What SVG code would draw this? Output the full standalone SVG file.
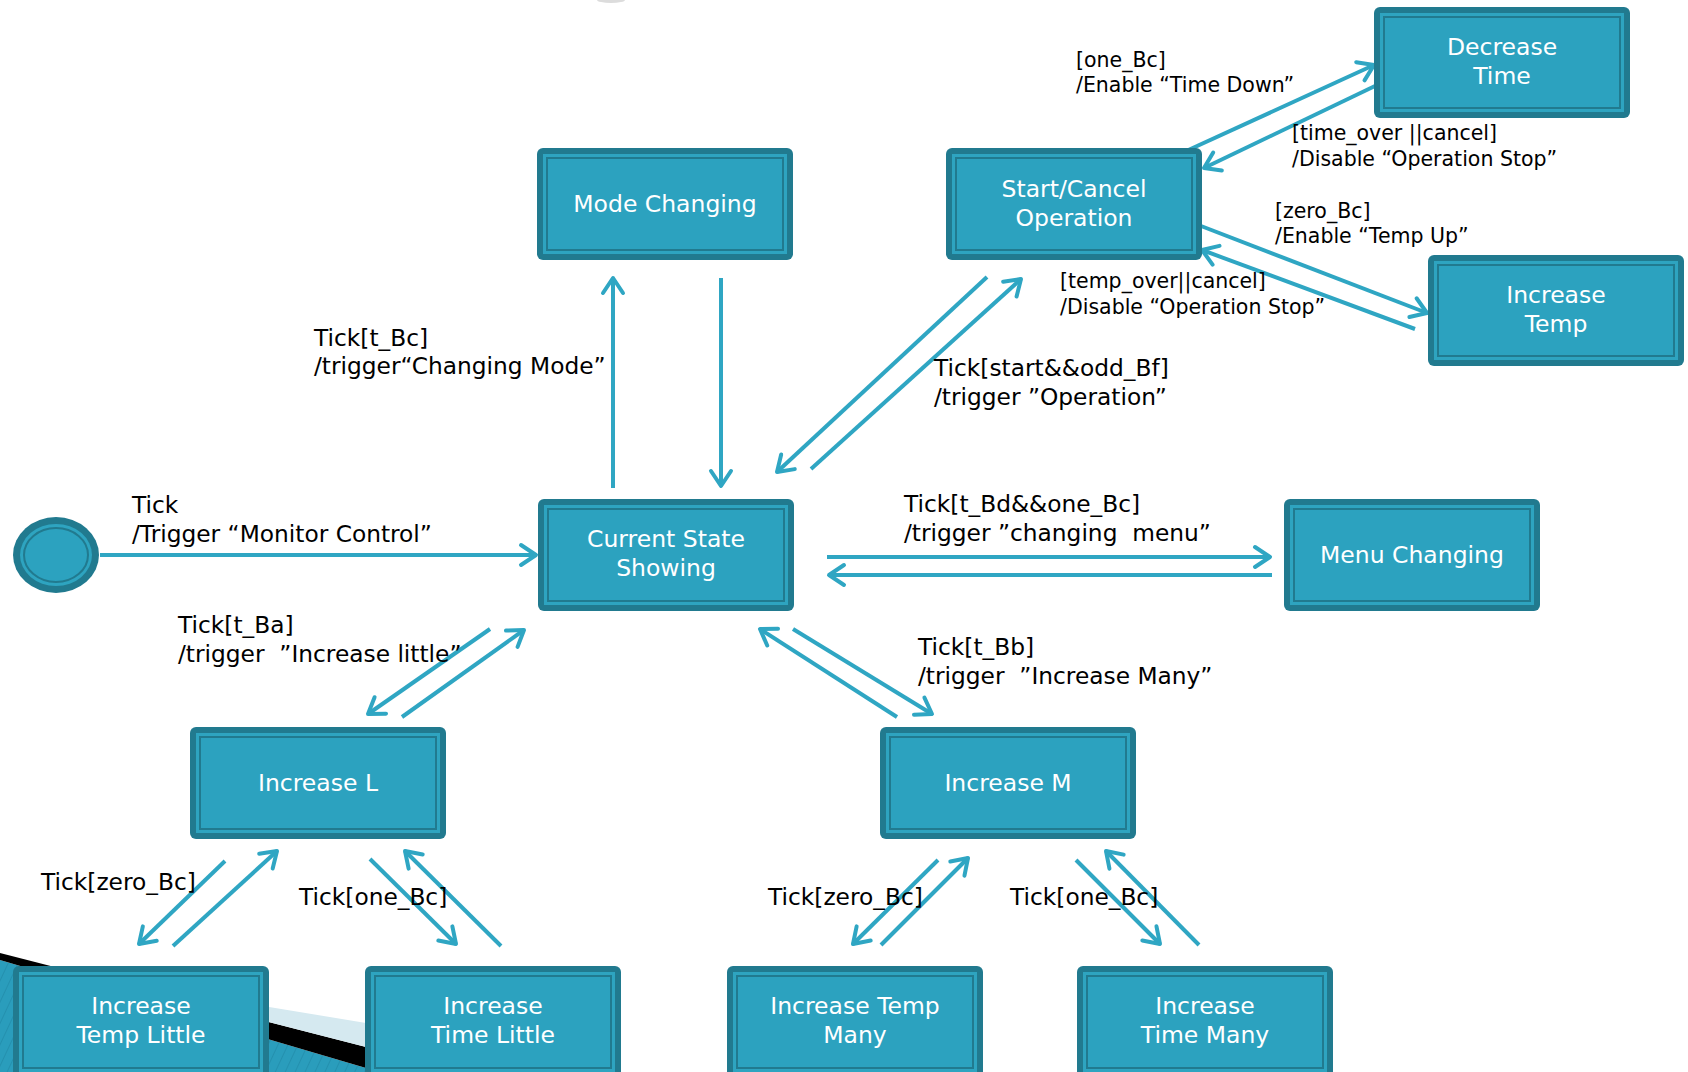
<svg xmlns="http://www.w3.org/2000/svg" width="1688" height="1072" viewBox="0 0 1688 1072">
  <defs>
    <style>
      .outer { fill: #217a8f; }
      .band { fill: #2ea4c0; }
      .inner { fill: #2ca2bf; stroke: #217a8f; stroke-width: 2; }
      .nlabel { font-family: "DejaVu Sans", "Noto Sans", sans-serif; font-size: 23.5px; fill: #ffffff; text-anchor: middle; }
      .elabel { font-family: "DejaVu Sans", "Noto Sans", sans-serif; font-size: 23.3px; fill: #000000; }
      .slabel { font-family: "DejaVu Sans", "Noto Sans", sans-serif; font-size: 20.5px; fill: #000000; }
      .edge { fill: none; stroke: #2fa6c3; stroke-width: 4; marker-end: url(#ah); }
    </style>
    <marker id="ah" markerUnits="userSpaceOnUse" markerWidth="40" markerHeight="40" viewBox="-20 -20 40 40" refX="0" refY="0" orient="auto" overflow="visible">
      <path d="M-15,-10 L0,0 L-15,10" fill="none" stroke="#2fa6c3" stroke-width="4" stroke-linecap="round" stroke-linejoin="round"/>
    </marker>
    <pattern id="stripes" patternUnits="userSpaceOnUse" width="9" height="9" patternTransform="rotate(25)">
      <rect width="9" height="9" fill="#2a9dbc"/>
      <line x1="0" y1="0" x2="0" y2="9" stroke="#2490ae" stroke-width="2"/>
    </pattern>
  </defs>

  <!-- slide background ribbon, lower-left corner -->
  <g id="background">
    <ellipse cx="611" cy="0" rx="14" ry="3" fill="#dcdcdc"/>
    <polygon points="0,960 366,1068 366,1072 0,1072" fill="url(#stripes)"/>
    <polygon points="0,953 366,1047 366,1068 0,960" fill="#000000"/>
    <polygon points="100,979 366,1023 366,1047" fill="#d5e9f0"/>
  </g>

  <!-- transitions -->
  <g id="connectors">
    <line class="edge" x1="100" y1="555" x2="536" y2="555"/>
    <line class="edge" x1="613" y1="488" x2="613" y2="278"/>
    <line class="edge" x1="721" y1="278" x2="721" y2="486"/>
    <line class="edge" x1="811" y1="469" x2="1021" y2="279"/>
    <line class="edge" x1="987" y1="277" x2="777" y2="472"/>
    <line class="edge" x1="827" y1="557" x2="1270" y2="557"/>
    <line class="edge" x1="1272" y1="575" x2="829" y2="575"/>
    <line class="edge" x1="490" y1="629" x2="368" y2="714"/>
    <line class="edge" x1="402" y1="717" x2="524" y2="630"/>
    <line class="edge" x1="793" y1="629" x2="932" y2="714"/>
    <line class="edge" x1="897" y1="717" x2="760" y2="629"/>
    <line class="edge" x1="225" y1="861" x2="139" y2="944"/>
    <line class="edge" x1="173" y1="946" x2="277" y2="851"/>
    <line class="edge" x1="370" y1="859" x2="456" y2="944"/>
    <line class="edge" x1="501" y1="946" x2="405" y2="851"/>
    <line class="edge" x1="938" y1="860" x2="853" y2="944"/>
    <line class="edge" x1="881" y1="945" x2="968" y2="858"/>
    <line class="edge" x1="1076" y1="860" x2="1160" y2="944"/>
    <line class="edge" x1="1199" y1="945" x2="1106" y2="851"/>
    <line class="edge" x1="1184" y1="152" x2="1374" y2="65"/>
    <line class="edge" x1="1375" y1="86" x2="1204" y2="168"/>
    <line class="edge" x1="1201" y1="226" x2="1427" y2="313"/>
    <line class="edge" x1="1415" y1="329" x2="1202" y2="250"/>
  </g>

  <!-- transition labels -->
  <g id="labels">
    <text class="elabel" x="132" y="513">Tick</text>
    <text class="elabel" x="132" y="542">/Trigger “Monitor Control”</text>
    <text class="elabel" x="314" y="346">Tick[t_Bc]</text>
    <text class="elabel" x="314" y="374">/trigger“Changing Mode”</text>
    <text class="elabel" x="934" y="376">Tick[start&amp;&amp;odd_Bf]</text>
    <text class="elabel" x="934" y="405">/trigger ”Operation”</text>
    <text class="elabel" x="904" y="512">Tick[t_Bd&amp;&amp;one_Bc]</text>
    <text class="elabel" x="904" y="541" xml:space="preserve">/trigger ”changing  menu”</text>
    <text class="elabel" x="178" y="633">Tick[t_Ba]</text>
    <text class="elabel" x="178" y="662" xml:space="preserve">/trigger  ”Increase little”</text>
    <text class="elabel" x="918" y="655">Tick[t_Bb]</text>
    <text class="elabel" x="918" y="684" xml:space="preserve">/trigger  ”Increase Many”</text>
    <text class="elabel" x="41" y="890">Tick[zero_Bc]</text>
    <text class="elabel" x="299" y="905">Tick[one_Bc]</text>
    <text class="elabel" x="768" y="905">Tick[zero_Bc]</text>
    <text class="elabel" x="1010" y="905">Tick[one_Bc]</text>
    <text class="slabel" x="1076" y="67">[one_Bc]</text>
    <text class="slabel" x="1076" y="92">/Enable “Time Down”</text>
    <text class="slabel" x="1292" y="140">[time_over ||cancel]</text>
    <text class="slabel" x="1292" y="166">/Disable “Operation Stop”</text>
    <text class="slabel" x="1275" y="218">[zero_Bc]</text>
    <text class="slabel" x="1275" y="243">/Enable “Temp Up”</text>
    <text class="slabel" x="1060" y="288">[temp_over||cancel]</text>
    <text class="slabel" x="1060" y="314">/Disable “Operation Stop”</text>
  </g>

  <!-- initial state -->
  <g id="initial">
    <ellipse cx="56" cy="555" rx="43" ry="38" fill="#217a8f"/>
    <ellipse cx="56" cy="555" rx="36" ry="31" fill="#2ea4c0"/>
    <ellipse cx="56" cy="555" rx="32" ry="27" fill="#2ca2bf" stroke="#217a8f" stroke-width="2"/>
  </g>

  <!-- states -->
  <g id="mode-changing">
    <rect class="outer" x="537" y="148" width="256" height="112" rx="6"/>
    <rect class="band" x="543" y="154" width="244" height="100"/>
    <rect class="inner" x="547" y="158" width="236" height="92"/>
    <text class="nlabel" x="665" y="212">Mode Changing</text>
  </g>
  <g id="start-cancel">
    <rect class="outer" x="946" y="148" width="256" height="112" rx="6"/>
    <rect class="band" x="952" y="154" width="244" height="100"/>
    <rect class="inner" x="956" y="158" width="236" height="92"/>
    <text class="nlabel" x="1074" y="197">Start/Cancel</text>
    <text class="nlabel" x="1074" y="226">Operation</text>
  </g>
  <g id="decrease-time">
    <rect class="outer" x="1374" y="7" width="256" height="111" rx="6"/>
    <rect class="band" x="1380" y="13" width="244" height="99"/>
    <rect class="inner" x="1384" y="17" width="236" height="91"/>
    <text class="nlabel" x="1502" y="55">Decrease</text>
    <text class="nlabel" x="1502" y="84">Time</text>
  </g>
  <g id="increase-temp">
    <rect class="outer" x="1428" y="255" width="256" height="111" rx="6"/>
    <rect class="band" x="1434" y="261" width="244" height="99"/>
    <rect class="inner" x="1438" y="265" width="236" height="91"/>
    <text class="nlabel" x="1556" y="303">Increase</text>
    <text class="nlabel" x="1556" y="332">Temp</text>
  </g>
  <g id="current-state">
    <rect class="outer" x="538" y="499" width="256" height="112" rx="6"/>
    <rect class="band" x="544" y="505" width="244" height="100"/>
    <rect class="inner" x="548" y="509" width="236" height="92"/>
    <text class="nlabel" x="666" y="547">Current State</text>
    <text class="nlabel" x="666" y="576">Showing</text>
  </g>
  <g id="menu-changing">
    <rect class="outer" x="1284" y="499" width="256" height="112" rx="6"/>
    <rect class="band" x="1290" y="505" width="244" height="100"/>
    <rect class="inner" x="1294" y="509" width="236" height="92"/>
    <text class="nlabel" x="1412" y="563">Menu Changing</text>
  </g>
  <g id="increase-l">
    <rect class="outer" x="190" y="727" width="256" height="112" rx="6"/>
    <rect class="band" x="196" y="733" width="244" height="100"/>
    <rect class="inner" x="200" y="737" width="236" height="92"/>
    <text class="nlabel" x="318" y="791">Increase L</text>
  </g>
  <g id="increase-m">
    <rect class="outer" x="880" y="727" width="256" height="112" rx="6"/>
    <rect class="band" x="886" y="733" width="244" height="100"/>
    <rect class="inner" x="890" y="737" width="236" height="92"/>
    <text class="nlabel" x="1008" y="791">Increase M</text>
  </g>
  <g id="increase-temp-little">
    <rect class="outer" x="13" y="966" width="256" height="112" rx="6"/>
    <rect class="band" x="19" y="972" width="244" height="100"/>
    <rect class="inner" x="23" y="976" width="236" height="92"/>
    <text class="nlabel" x="141" y="1014">Increase</text>
    <text class="nlabel" x="141" y="1043">Temp Little</text>
  </g>
  <g id="increase-time-little">
    <rect class="outer" x="365" y="966" width="256" height="112" rx="6"/>
    <rect class="band" x="371" y="972" width="244" height="100"/>
    <rect class="inner" x="375" y="976" width="236" height="92"/>
    <text class="nlabel" x="493" y="1014">Increase</text>
    <text class="nlabel" x="493" y="1043">Time Little</text>
  </g>
  <g id="increase-temp-many">
    <rect class="outer" x="727" y="966" width="256" height="112" rx="6"/>
    <rect class="band" x="733" y="972" width="244" height="100"/>
    <rect class="inner" x="737" y="976" width="236" height="92"/>
    <text class="nlabel" x="855" y="1014">Increase Temp</text>
    <text class="nlabel" x="855" y="1043">Many</text>
  </g>
  <g id="increase-time-many">
    <rect class="outer" x="1077" y="966" width="256" height="112" rx="6"/>
    <rect class="band" x="1083" y="972" width="244" height="100"/>
    <rect class="inner" x="1087" y="976" width="236" height="92"/>
    <text class="nlabel" x="1205" y="1014">Increase</text>
    <text class="nlabel" x="1205" y="1043">Time Many</text>
  </g>
</svg>
